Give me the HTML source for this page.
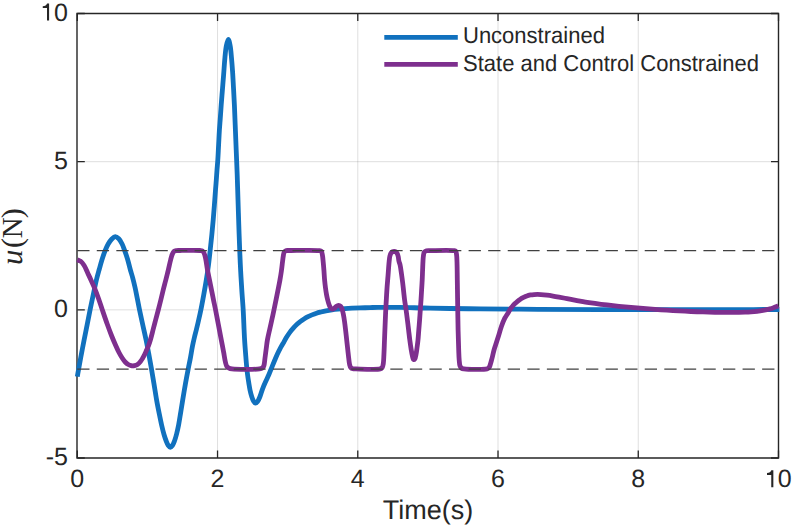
<!DOCTYPE html>
<html><head><meta charset="utf-8"><style>
html,body{margin:0;padding:0;background:#fff;}
svg{display:block;}
text{font-family:"Liberation Sans",sans-serif;fill:#262626;text-rendering:geometricPrecision;}
</style></head><body>
<svg width="793" height="529" viewBox="0 0 793 529">
<rect width="793" height="529" fill="#fff"/>
<g stroke="#262626" stroke-opacity="0.15" stroke-width="1" fill="none"><line x1="217.54" y1="13.5" x2="217.54" y2="458.0"/><line x1="357.78" y1="13.5" x2="357.78" y2="458.0"/><line x1="498.02" y1="13.5" x2="498.02" y2="458.0"/><line x1="638.26" y1="13.5" x2="638.26" y2="458.0"/><line x1="77.3" y1="309.83" x2="778.5" y2="309.83"/><line x1="77.3" y1="161.67" x2="778.5" y2="161.67"/></g>
<path d="M77.30,458.0V450.5M77.30,13.5V21.0M217.54,458.0V450.5M217.54,13.5V21.0M357.78,458.0V450.5M357.78,13.5V21.0M498.02,458.0V450.5M498.02,13.5V21.0M638.26,458.0V450.5M638.26,13.5V21.0M778.50,458.0V450.5M778.50,13.5V21.0M77.3,458.00H84.8M778.5,458.00H771.0M77.3,309.83H84.8M778.5,309.83H771.0M77.3,161.67H84.8M778.5,161.67H771.0M77.3,13.50H84.8M778.5,13.50H771.0" stroke="#262626" stroke-width="1.3" fill="none"/>
<path d="M77.0,13.5H778.5V458.0H77.0Z" fill="none" stroke="#262626" stroke-width="1.4"/>
<path d="M77.30,376.60 C77.93,373.07 78.52,369.71 79.20,366.00 C79.95,361.89 80.78,357.33 81.60,353.00 C82.42,348.67 83.22,344.49 84.10,340.00 C85.05,335.18 86.10,330.02 87.10,325.00 C88.10,319.95 89.07,314.87 90.10,309.80 C91.14,304.71 92.24,299.53 93.30,294.50 C94.34,289.60 95.34,284.43 96.40,280.00 C97.31,276.21 98.26,272.91 99.20,269.50 C100.10,266.25 100.92,263.11 101.90,260.00 C102.86,256.95 103.89,253.79 105.00,251.00 C106.00,248.49 107.01,246.06 108.20,244.00 C109.24,242.19 110.32,240.47 111.60,239.20 C112.72,238.08 114.07,236.63 115.30,236.60 C116.47,236.57 117.75,237.76 118.80,238.80 C120.08,240.07 121.15,242.13 122.10,244.00 C123.10,245.98 123.76,248.10 124.60,250.40 C125.56,253.04 126.58,255.94 127.50,259.00 C128.53,262.43 129.47,266.65 130.40,270.00 C131.19,272.83 131.97,275.06 132.70,277.80 C133.51,280.80 134.26,284.00 135.00,287.30 C135.80,290.87 136.55,294.77 137.30,298.50 C138.05,302.23 138.67,305.68 139.50,309.70 C140.47,314.41 141.69,319.93 142.80,325.00 C143.89,330.03 145.09,335.13 146.10,340.00 C147.05,344.61 147.84,348.88 148.70,353.50 C149.61,358.37 150.52,363.46 151.40,368.50 C152.29,373.62 153.14,378.79 154.00,384.00 C154.87,389.29 155.69,394.90 156.60,400.00 C157.43,404.70 158.33,409.18 159.20,413.50 C160.00,417.49 160.76,421.36 161.60,425.00 C162.37,428.33 163.16,431.65 164.00,434.50 C164.70,436.89 165.42,439.05 166.20,441.00 C166.86,442.66 167.49,444.37 168.30,445.50 C168.90,446.34 169.62,447.39 170.30,447.40 C170.99,447.41 171.77,446.35 172.40,445.50 C173.23,444.38 173.86,442.69 174.50,441.00 C175.28,438.95 175.95,436.49 176.60,434.00 C177.33,431.20 177.97,428.22 178.60,425.00 C179.32,421.30 179.93,417.08 180.60,413.00 C181.30,408.75 181.95,404.56 182.70,400.00 C183.54,394.94 184.47,389.24 185.40,384.00 C186.30,378.92 187.31,373.61 188.20,369.00 C188.96,365.05 189.70,361.75 190.40,358.00 C191.13,354.09 191.76,349.71 192.50,346.00 C193.14,342.78 193.82,339.86 194.50,337.00 C195.12,334.38 195.75,332.16 196.40,329.50 C197.14,326.48 197.95,323.06 198.70,319.80 C199.46,316.50 200.15,313.47 200.90,309.80 C201.81,305.35 202.80,299.95 203.70,295.00 C204.60,290.02 205.50,285.01 206.30,280.00 C207.10,275.01 207.85,270.01 208.50,265.00 C209.15,260.01 209.65,255.00 210.20,250.00 C210.75,245.00 211.30,240.00 211.80,235.00 C212.30,230.00 212.77,225.00 213.20,220.00 C213.63,215.00 214.02,210.00 214.40,205.00 C214.78,200.00 215.16,194.49 215.50,190.00 C215.78,186.33 216.05,183.33 216.30,180.00 C216.55,176.67 216.75,173.33 217.00,170.00 C217.25,166.67 217.56,163.67 217.80,160.00 C218.10,155.51 218.33,150.00 218.60,145.00 C218.87,140.00 219.10,134.72 219.40,130.00 C219.67,125.78 220.01,122.08 220.30,118.00 C220.61,113.75 220.87,109.49 221.20,105.00 C221.56,100.18 222.00,95.00 222.40,90.00 C222.80,85.00 223.20,80.16 223.60,75.00 C224.03,69.51 224.40,63.17 224.90,58.00 C225.32,53.65 225.60,49.40 226.30,46.00 C226.83,43.42 227.65,39.30 228.30,39.30 C228.95,39.30 229.70,43.42 230.20,46.00 C230.86,49.40 231.11,53.84 231.50,58.00 C231.92,62.48 232.27,67.18 232.60,72.00 C232.95,77.15 233.20,82.59 233.50,88.00 C233.80,93.58 234.13,99.10 234.40,105.00 C234.70,111.40 234.92,117.96 235.20,125.00 C235.51,132.87 235.87,141.67 236.20,150.00 C236.53,158.33 236.90,166.67 237.20,175.00 C237.50,183.33 237.73,191.67 238.00,200.00 C238.27,208.33 238.52,216.67 238.80,225.00 C239.08,233.33 239.38,242.13 239.70,250.00 C239.99,257.04 240.25,263.33 240.60,270.00 C240.95,276.67 241.37,283.33 241.80,290.00 C242.23,296.67 242.82,303.33 243.20,310.00 C243.58,316.66 243.84,324.48 244.10,330.00 C244.29,333.91 244.37,336.33 244.60,340.00 C244.88,344.50 245.33,350.28 245.70,355.00 C246.03,359.22 246.35,363.41 246.70,367.00 C246.99,369.94 247.25,372.34 247.60,375.00 C247.95,377.67 248.39,380.42 248.80,383.00 C249.19,385.41 249.51,387.72 250.00,390.00 C250.48,392.22 251.06,394.55 251.70,396.50 C252.25,398.16 252.76,399.82 253.50,401.00 C254.08,401.93 254.80,403.15 255.50,403.20 C256.17,403.25 256.96,402.31 257.60,401.50 C258.52,400.34 259.24,398.37 260.00,396.50 C260.92,394.23 261.64,391.31 262.60,388.80 C263.55,386.32 264.65,383.87 265.70,381.50 C266.72,379.21 267.80,377.11 268.80,374.80 C269.84,372.38 270.81,369.74 271.80,367.30 C272.74,364.98 273.67,362.72 274.60,360.50 C275.50,358.36 276.36,356.22 277.30,354.20 C278.20,352.26 279.13,350.41 280.10,348.60 C281.04,346.85 281.99,345.28 283.00,343.50 C284.11,341.53 285.29,339.25 286.50,337.30 C287.63,335.47 288.79,333.71 290.00,332.10 C291.13,330.59 292.31,329.22 293.50,327.90 C294.64,326.63 295.80,325.41 297.00,324.30 C298.14,323.25 299.31,322.30 300.50,321.40 C301.65,320.53 302.78,319.77 304.00,319.00 C305.27,318.20 306.65,317.39 308.00,316.70 C309.32,316.03 310.62,315.47 312.00,314.90 C313.45,314.30 314.99,313.69 316.50,313.20 C317.99,312.72 319.46,312.38 321.00,312.00 C322.62,311.61 324.25,311.24 326.00,310.90 C327.90,310.53 330.00,310.18 332.00,309.90 C334.00,309.62 335.92,309.41 338.00,309.20 C340.24,308.97 342.67,308.77 345.00,308.60 C347.33,308.43 349.59,308.31 352.00,308.20 C354.58,308.08 357.18,308.00 360.00,307.90 C363.15,307.79 366.85,307.70 370.00,307.60 C372.82,307.51 374.67,307.40 378.00,307.35 C383.52,307.27 392.47,307.30 400.00,307.40 C407.95,307.51 416.25,307.82 424.50,308.00 C432.91,308.19 441.12,308.35 450.00,308.50 C459.71,308.66 470.42,308.80 480.50,308.90 C490.42,309.00 500.29,309.03 510.00,309.10 C519.46,309.17 526.84,309.23 538.00,309.30 C554.61,309.40 576.88,309.54 600.00,309.60 C629.37,309.67 668.60,309.62 700.00,309.60 C727.96,309.58 752.87,309.53 779.30,309.50" fill="none" stroke="#1171BE" stroke-width="4.8" stroke-linejoin="round" stroke-linecap="butt"/>
<path d="M77.30,259.70 C78.37,260.20 79.49,260.44 80.50,261.20 C81.74,262.14 82.91,263.55 84.00,265.20 C85.40,267.33 86.57,270.59 87.80,273.20 C88.97,275.69 90.07,278.02 91.20,280.50 C92.37,283.05 93.55,285.51 94.70,288.30 C95.99,291.45 97.27,295.03 98.50,298.50 C99.77,302.09 100.87,305.58 102.20,309.50 C103.73,314.00 105.57,319.46 107.20,324.00 C108.66,328.07 110.06,331.86 111.50,335.50 C112.82,338.83 114.18,342.03 115.50,345.00 C116.68,347.66 117.81,350.22 119.00,352.50 C120.05,354.50 121.10,356.34 122.20,358.00 C123.17,359.47 124.12,360.88 125.20,362.00 C126.17,363.00 127.23,363.89 128.30,364.50 C129.24,365.04 130.37,365.39 131.20,365.60 C131.80,365.75 132.26,365.80 132.80,365.80 C133.36,365.80 133.86,365.75 134.50,365.60 C135.37,365.39 136.56,365.10 137.50,364.50 C138.58,363.81 139.64,362.54 140.50,361.50 C141.29,360.54 141.86,359.57 142.50,358.50 C143.19,357.35 143.86,356.11 144.50,354.80 C145.20,353.39 145.83,351.83 146.50,350.30 C147.19,348.73 147.94,347.27 148.60,345.50 C149.38,343.41 150.10,340.96 150.80,338.50 C151.57,335.81 152.24,332.95 153.00,330.00 C153.83,326.80 154.72,323.35 155.60,320.00 C156.49,316.62 157.42,313.17 158.30,309.80 C159.16,306.50 159.99,303.29 160.80,300.00 C161.62,296.69 162.37,293.33 163.20,290.00 C164.03,286.66 164.95,283.34 165.80,280.00 C166.65,276.67 167.50,273.34 168.30,270.00 C169.10,266.67 169.86,262.83 170.60,260.00 C171.15,257.89 171.54,256.04 172.20,254.50 C172.72,253.28 173.20,252.04 174.00,251.40 C174.69,250.85 175.58,250.76 176.50,250.60 C177.56,250.42 178.35,250.52 180.00,250.50 C183.93,250.44 196.53,250.16 200.00,250.50 C201.24,250.62 201.83,250.58 202.50,251.00 C203.16,251.42 203.56,252.13 204.00,253.00 C204.63,254.25 205.03,255.96 205.50,258.00 C206.23,261.12 206.80,266.19 207.50,270.00 C208.14,273.49 208.83,276.67 209.50,280.00 C210.17,283.33 210.83,286.67 211.50,290.00 C212.17,293.33 212.83,296.70 213.50,300.00 C214.16,303.23 214.85,306.33 215.50,309.60 C216.18,312.99 216.84,316.57 217.50,320.00 C218.14,323.37 218.75,326.59 219.40,330.00 C220.08,333.58 220.80,337.33 221.50,341.00 C222.20,344.67 222.94,348.42 223.60,352.00 C224.23,355.41 224.74,359.38 225.40,362.00 C225.84,363.75 226.08,365.24 226.80,366.30 C227.37,367.14 228.16,367.67 229.00,368.10 C229.88,368.55 230.48,368.70 232.00,368.90 C236.53,369.49 255.09,369.59 259.50,368.90 C260.94,368.67 261.57,368.52 262.30,368.00 C262.97,367.52 263.40,366.96 263.80,366.00 C264.52,364.28 264.61,360.82 265.00,358.00 C265.44,354.85 265.88,351.15 266.30,348.00 C266.68,345.18 266.89,342.90 267.40,340.00 C268.02,336.50 269.10,332.15 269.90,328.50 C270.63,325.18 271.31,322.14 272.00,319.00 C272.68,315.91 273.34,312.92 274.00,309.80 C274.68,306.59 275.34,303.28 276.00,300.00 C276.67,296.68 277.34,293.33 278.00,290.00 C278.66,286.67 279.37,283.25 279.95,280.00 C280.50,276.93 280.97,274.00 281.40,271.00 C281.82,268.00 282.16,264.70 282.50,262.00 C282.78,259.80 282.99,257.75 283.30,256.00 C283.54,254.61 283.60,253.21 284.10,252.30 C284.47,251.62 284.98,251.10 285.60,250.80 C286.26,250.48 287.15,250.55 288.00,250.50 C288.94,250.44 289.49,250.50 291.00,250.50 C295.60,250.51 314.86,249.98 319.00,250.60 C320.21,250.78 320.74,250.74 321.30,251.30 C322.00,252.01 322.11,253.56 322.40,255.00 C322.80,256.95 322.96,259.59 323.20,262.00 C323.46,264.58 323.68,267.18 323.90,270.00 C324.15,273.15 324.31,276.86 324.60,280.00 C324.86,282.82 325.16,285.47 325.50,288.00 C325.80,290.28 326.12,292.43 326.50,294.50 C326.86,296.42 327.24,298.22 327.70,300.00 C328.14,301.72 328.64,303.55 329.20,305.00 C329.66,306.18 330.08,307.38 330.70,308.10 C331.17,308.64 331.74,309.13 332.30,309.20 C332.84,309.27 333.45,308.95 334.00,308.60 C334.69,308.16 335.25,307.15 336.00,306.60 C336.75,306.05 337.70,305.33 338.50,305.30 C339.22,305.27 340.04,305.67 340.60,306.20 C341.26,306.82 341.59,307.91 342.00,309.00 C342.53,310.40 342.91,312.13 343.30,314.00 C343.79,316.34 344.21,319.25 344.60,322.00 C345.01,324.91 345.34,327.92 345.70,331.00 C346.08,334.24 346.44,337.75 346.80,341.00 C347.14,344.08 347.47,347.09 347.80,350.00 C348.11,352.75 348.38,355.47 348.70,358.00 C348.99,360.28 349.15,362.75 349.60,364.50 C349.92,365.74 350.16,366.87 350.80,367.60 C351.35,368.23 352.18,368.58 353.00,368.80 C353.90,369.04 354.52,368.88 356.00,368.90 C360.20,368.97 376.66,370.02 380.20,368.90 C381.32,368.55 381.70,368.21 382.20,367.50 C382.85,366.58 383.03,365.10 383.30,363.50 C383.69,361.21 383.72,358.23 383.90,355.00 C384.14,350.71 384.30,345.00 384.50,340.00 C384.70,335.00 384.91,329.72 385.10,325.00 C385.27,320.78 385.41,317.08 385.60,313.00 C385.80,308.75 386.05,304.33 386.30,300.00 C386.55,295.67 386.80,291.15 387.10,287.00 C387.37,283.18 387.74,279.38 388.00,276.00 C388.23,273.12 388.39,270.58 388.60,268.00 C388.79,265.59 388.96,263.13 389.20,261.00 C389.40,259.19 389.52,257.44 389.90,256.00 C390.21,254.85 390.56,253.73 391.10,253.00 C391.52,252.44 392.06,252.05 392.60,251.80 C393.10,251.57 393.67,251.48 394.20,251.50 C394.74,251.52 395.32,251.61 395.80,251.90 C396.34,252.23 396.82,252.84 397.20,253.50 C397.66,254.31 397.93,255.39 398.20,256.50 C398.52,257.84 398.57,259.55 398.90,261.00 C399.21,262.38 399.73,263.38 400.10,265.00 C400.64,267.39 401.07,271.00 401.50,274.00 C401.93,277.00 402.33,280.00 402.70,283.00 C403.07,286.00 403.37,289.09 403.70,292.00 C404.01,294.75 404.23,297.19 404.60,300.00 C405.01,303.15 405.63,306.66 406.10,310.00 C406.57,313.33 406.98,316.67 407.40,320.00 C407.82,323.33 408.20,326.67 408.60,330.00 C409.00,333.33 409.37,336.76 409.80,340.00 C410.21,343.08 410.65,346.25 411.10,349.00 C411.49,351.35 411.82,353.59 412.30,355.50 C412.68,357.04 412.98,359.37 413.60,359.60 C413.97,359.74 414.55,359.28 414.90,358.80 C415.50,357.98 415.68,356.09 416.00,354.50 C416.40,352.56 416.68,350.28 417.00,348.00 C417.35,345.47 417.71,342.82 418.00,340.00 C418.32,336.86 418.53,333.33 418.80,330.00 C419.07,326.67 419.35,323.33 419.60,320.00 C419.85,316.67 420.07,313.33 420.30,310.00 C420.53,306.67 420.78,303.33 421.00,300.00 C421.22,296.67 421.40,293.33 421.60,290.00 C421.80,286.67 422.03,283.33 422.20,280.00 C422.37,276.67 422.46,273.25 422.60,270.00 C422.73,266.92 422.84,263.56 423.00,261.00 C423.12,259.09 423.16,257.54 423.40,256.00 C423.61,254.64 423.67,253.08 424.30,252.20 C424.81,251.48 425.64,251.08 426.50,250.80 C427.50,250.48 428.31,250.65 430.00,250.60 C434.42,250.47 450.58,249.96 454.00,250.60 C454.97,250.78 455.37,250.80 455.80,251.30 C456.40,252.00 456.40,253.56 456.60,255.00 C456.87,256.96 456.89,259.12 457.00,262.00 C457.17,266.61 457.20,273.84 457.30,280.00 C457.40,286.49 457.48,292.66 457.60,300.00 C457.74,308.99 457.89,321.01 458.10,330.00 C458.27,337.34 458.48,344.48 458.70,350.00 C458.86,353.91 458.93,357.12 459.20,360.00 C459.41,362.20 459.44,364.33 460.00,365.80 C460.39,366.83 460.90,367.68 461.60,368.20 C462.25,368.68 462.77,368.72 464.00,368.90 C467.73,369.43 483.70,369.83 487.00,368.90 C488.00,368.62 488.31,368.32 488.80,367.80 C489.34,367.22 489.63,366.42 490.00,365.50 C490.49,364.27 490.88,362.54 491.30,361.00 C491.74,359.38 492.18,357.71 492.60,356.00 C493.04,354.21 493.40,352.32 493.90,350.50 C494.40,348.66 494.95,347.06 495.60,345.00 C496.43,342.37 497.54,339.04 498.50,336.00 C499.48,332.88 500.32,329.54 501.40,326.50 C502.43,323.62 503.59,320.58 504.80,318.20 C505.78,316.28 506.97,314.77 507.90,313.20 C508.71,311.83 509.30,310.50 510.10,309.30 C510.84,308.18 511.70,307.15 512.50,306.20 C513.23,305.33 513.90,304.59 514.70,303.80 C515.56,302.95 516.58,302.06 517.50,301.30 C518.34,300.61 519.07,300.01 520.00,299.40 C521.05,298.71 522.34,298.00 523.50,297.40 C524.60,296.84 525.65,296.30 526.80,295.90 C527.98,295.49 529.28,295.21 530.50,294.98 C531.68,294.76 532.83,294.62 534.00,294.53 C535.16,294.44 536.33,294.41 537.50,294.41 C538.67,294.41 539.68,294.45 541.00,294.54 C542.73,294.66 545.00,294.89 547.00,295.14 C549.00,295.39 551.00,295.71 553.00,296.04 C555.00,296.37 557.00,296.74 559.00,297.11 C561.00,297.48 563.00,297.87 565.00,298.26 C567.00,298.65 569.00,299.05 571.00,299.43 C573.00,299.81 575.00,300.19 577.00,300.56 C579.00,300.92 581.00,301.28 583.00,301.62 C585.00,301.96 587.00,302.27 589.00,302.58 C591.00,302.89 593.00,303.18 595.00,303.46 C597.00,303.74 599.00,304.00 601.00,304.26 C603.00,304.51 605.00,304.75 607.00,304.99 C609.00,305.22 611.00,305.45 613.00,305.67 C615.00,305.89 617.00,306.10 619.00,306.30 C621.00,306.50 623.00,306.70 625.00,306.89 C627.00,307.08 629.00,307.27 631.00,307.45 C633.00,307.63 635.00,307.80 637.00,307.97 C639.00,308.14 641.00,308.31 643.00,308.47 C645.00,308.63 647.00,308.79 649.00,308.94 C651.00,309.09 653.00,309.24 655.00,309.39 C657.00,309.53 659.00,309.67 661.00,309.81 C663.00,309.94 665.00,310.07 667.00,310.20 C669.00,310.33 671.00,310.45 673.00,310.57 C675.00,310.69 677.00,310.80 679.00,310.91 C681.00,311.02 683.00,311.12 685.00,311.22 C687.00,311.32 689.00,311.41 691.00,311.50 C693.00,311.59 695.00,311.67 697.00,311.75 C699.00,311.83 701.00,311.90 703.00,311.97 C705.00,312.03 707.00,312.09 709.00,312.14 C711.00,312.19 713.00,312.24 715.00,312.28 C717.00,312.32 719.00,312.35 721.00,312.37 C723.00,312.39 725.00,312.41 727.00,312.41 C729.00,312.41 731.00,312.40 733.00,312.39 C735.00,312.38 737.00,312.36 739.00,312.32 C741.00,312.28 743.00,312.22 745.00,312.14 C747.00,312.06 749.00,311.96 751.00,311.82 C753.00,311.68 755.00,311.51 757.00,311.28 C759.00,311.05 761.01,310.78 763.00,310.42 C765.01,310.06 767.84,309.39 769.00,309.11 C769.48,308.99 769.58,308.96 770.00,308.84 C770.73,308.63 772.00,308.25 773.00,307.91 C774.00,307.57 775.07,307.18 776.00,306.81 C776.82,306.49 777.53,306.16 778.30,305.84" fill="none" stroke="#7E2F8E" stroke-width="4.8" stroke-linejoin="round" stroke-linecap="butt"/>
<g font-size="25"><text x="77.30" y="487.2" text-anchor="middle">0</text><text x="217.54" y="487.2" text-anchor="middle">2</text><text x="357.78" y="487.2" text-anchor="middle">4</text><text x="498.02" y="487.2" text-anchor="middle">6</text><text x="638.26" y="487.2" text-anchor="middle">8</text><text x="777.70" y="487.2" text-anchor="start">0</text><text x="68.0" y="465.40" text-anchor="end">-5</text><text x="68.0" y="317.23" text-anchor="end">0</text><text x="68.0" y="169.07" text-anchor="end">5</text><text x="68.0" y="20.90" text-anchor="end">0</text></g>
<path d="M773.35,470.20V487.20H771.25V474.90H767.00V473.00C769.30,472.90 771.00,471.70 771.30,470.20ZM49.10,3.40V20.40H47.00V8.10H42.75V6.20C45.05,6.10 46.75,4.90 47.05,3.40Z" fill="#262626"/>
<text x="427.9" y="519.3" font-size="27" text-anchor="middle">Time(s)</text>
<g text-anchor="middle">
<text transform="translate(22,257.2) rotate(-90)" style="font-family:'Liberation Serif',serif" font-size="31" font-style="italic">u</text>
<text transform="translate(22,242.9) rotate(-90)" style="font-family:'Liberation Serif',serif" font-size="30">(</text>
<text transform="translate(22,227.75) rotate(-90)" style="font-family:'Liberation Serif',serif" font-size="29">N</text>
<text transform="translate(22,213.3) rotate(-90)" style="font-family:'Liberation Serif',serif" font-size="30">)</text>
</g>
<g stroke="#404040" stroke-width="1.3" fill="none" stroke-dasharray="12.3 7.27">
<line x1="77.20" y1="250.57" x2="778.5" y2="250.57"/>
<line x1="77.20" y1="369.10" x2="778.5" y2="369.10"/>
</g>
<g stroke-width="4.8">
<line x1="384.3" y1="37.4" x2="457.8" y2="37.4" stroke="#1171BE"/>
<line x1="384.3" y1="64.3" x2="457.8" y2="64.3" stroke="#7E2F8E"/>
</g>
<g font-size="22">
<text transform="translate(463.0,43.0) scale(1,1.045)">Unconstrained</text>
<text transform="translate(463.0,70.6) scale(1,1.045)">State and Control Constrained</text>
</g>
</svg>
</body></html>
